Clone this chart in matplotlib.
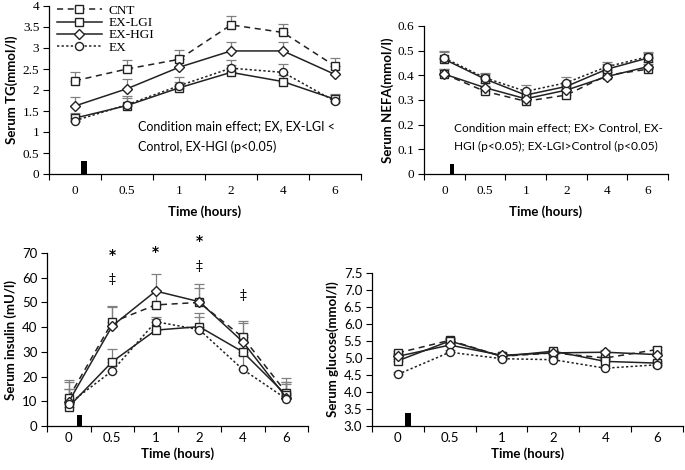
import matplotlib
matplotlib.use("Agg")
import matplotlib.pyplot as plt
import numpy as np

times = ["0", "0.5", "1", "2", "4", "6"]
series = ["CNT", "EX-LGI", "EX-HGI", "EX"]

tg = {
    "CNT":    [2.22, 2.50, 2.73, 3.55, 3.37, 2.57],
    "EX-LGI": [1.33, 1.63, 2.05, 2.42, 2.20, 1.78],
    "EX-HGI": [1.62, 2.03, 2.54, 2.93, 2.93, 2.37],
    "EX":     [1.27, 1.65, 2.10, 2.52, 2.42, 1.73],
}
tg_err = {
    "CNT":    [0.22, 0.22, 0.22, 0.20, 0.21, 0.20],
    "EX-LGI": [0.12, 0.17, 0.15, 0.18, 0.15, 0.12],
    "EX-HGI": [0.21, 0.22, 0.20, 0.22, 0.22, 0.20],
    "EX":     [0.13, 0.20, 0.20, 0.20, 0.20, 0.15],
}

nefa = {
    "CNT":    [0.405, 0.335, 0.295, 0.320, 0.400, 0.425],
    "EX-LGI": [0.465, 0.385, 0.320, 0.355, 0.425, 0.470],
    "EX-HGI": [0.405, 0.350, 0.305, 0.340, 0.395, 0.435],
    "EX":     [0.470, 0.390, 0.335, 0.370, 0.435, 0.475],
}
nefa_err = {
    "CNT":    [0.02, 0.02, 0.02, 0.02, 0.02, 0.02],
    "EX-LGI": [0.03, 0.02, 0.02, 0.02, 0.02, 0.02],
    "EX-HGI": [0.02, 0.02, 0.02, 0.02, 0.02, 0.02],
    "EX":     [0.03, 0.02, 0.025, 0.025, 0.02, 0.02],
}

insulin = {
    "CNT":    [11.5, 42.0, 49.0, 50.0, 35.9, 13.5],
    "EX-LGI": [7.8, 26.0, 38.8, 40.2, 30.0, 12.5],
    "EX-HGI": [9.8, 40.5, 54.6, 50.3, 34.1, 11.5],
    "EX":     [9.0, 22.3, 42.2, 39.0, 22.9, 11.0],
}
insulin_err = {
    "CNT":    [7.0, 6.5, 6.0, 6.0, 6.5, 6.0],
    "EX-LGI": [7.0, 5.0, 4.5, 5.5, 7.0, 5.5],
    "EX-HGI": [8.0, 7.5, 7.0, 7.0, 7.5, 6.5],
    "EX":     [6.0, 5.0, 2.0, 5.0, 6.0, 6.0],
}

glucose = {
    "CNT":    [5.15, 5.52, 5.05, 5.15, 5.00, 5.25],
    "EX-LGI": [4.92, 5.50, 5.05, 5.20, 4.90, 4.85],
    "EX-HGI": [5.05, 5.38, 5.08, 5.15, 5.17, 5.10],
    "EX":     [4.52, 5.17, 4.98, 4.95, 4.70, 4.80],
}
glucose_err = {
    "CNT":    [0.06, 0.06, 0.05, 0.05, 0.06, 0.06],
    "EX-LGI": [0.06, 0.06, 0.05, 0.05, 0.06, 0.06],
    "EX-HGI": [0.06, 0.06, 0.05, 0.05, 0.06, 0.06],
    "EX":     [0.06, 0.06, 0.05, 0.05, 0.06, 0.06],
}

styles = {
    "CNT":    dict(ls=(0, (4, 3)), marker="s", ms=5.5),
    "EX-LGI": dict(ls="-", marker="s", ms=5.5),
    "EX-HGI": dict(ls="-", marker="D", ms=4.8),
    "EX":     dict(ls=(0, (1.5, 1.5)), marker="o", ms=5.8),
}

SERIF = "Liberation Serif"
SANS = "Lato"

fig = plt.figure(figsize=(6.85, 4.70), dpi=100)

def fx(px):
    return px / 685.0

def fy(px):
    return 1 - px / 470.0

def make_ax(l, r, top, bottom):
    return fig.add_axes([fx(l), fy(bottom), fx(r - l), (bottom - top) / 470.0])

def style_ax(ax, ylim, yticks, yticklabels, ylabel, bar, ylabel_x, tickfont, xpad, labelpad):
    x = np.arange(len(times))
    ax.set_xlim(-0.5, len(times) - 0.5)
    ax.set_ylim(*ylim)
    ax.set_yticks(yticks)
    ax.set_yticklabels(yticklabels, fontfamily=tickfont, fontsize=9.5)
    ax.set_xticks(np.arange(-0.5, len(times), 1.0))
    ax.set_xticklabels([])
    ax.set_xticks(x, minor=True)
    ax.set_xticklabels(times, minor=True, fontfamily=tickfont, fontsize=9.5)
    ax.tick_params(axis="x", which="major", direction="out", length=4, width=0.8)
    ax.tick_params(axis="x", which="minor", length=0, pad=xpad)
    ax.tick_params(axis="y", direction="out", length=4, width=0.8, pad=3)
    for s in ["top", "right"]:
        ax.spines[s].set_visible(False)
    for s in ["left", "bottom"]:
        ax.spines[s].set_linewidth(0.9)
    ax.set_xlabel("Time (hours)", fontfamily=SANS, fontweight="bold", fontsize=9.5, labelpad=labelpad)
    ax.set_ylabel(ylabel, fontfamily=SANS, fontweight="bold", fontsize=9.5)
    ax.yaxis.set_label_coords(ylabel_x, 0.5)
    ax.bar([bar[0]], [bar[1] - ylim[0]], bottom=ylim[0], width=0.11, color="black", zorder=3)

def draw_series(ax, data, err):
    x = np.arange(len(times))
    handles = []
    for name in series:
        st = styles[name]
        e = np.array(err[name])
        ax.errorbar(x, data[name], yerr=[np.zeros_like(e), e], fmt="none",
                    ecolor="#808080", elinewidth=0.9, capsize=3.5, capthick=0.9, zorder=2)
        h, = ax.plot(x, data[name], color="#222222", lw=1.1, ls=st["ls"], marker=st["marker"],
                     ms=st["ms"], mfc="white", mec="#222222", mew=1.0, zorder=4, label=name)
        handles.append(h)
    return handles

# Top-left: TG
ax1 = make_ax(49, 361, 6, 174)
handles = draw_series(ax1, tg, tg_err)
style_ax(ax1, (0, 4), np.arange(0, 4.01, 0.5), ["0", "0.5", "1", "1.5", "2", "2.5", "3", "3.5", "4"],
         "Serum TG(mmol/l)", (0.17, 0.3), -0.1, SERIF, 8, 6)
leg = ax1.legend(handles=handles, loc="upper left", bbox_to_anchor=(0.0, 1.055), frameon=False,
                 prop={"family": SERIF, "size": 9.5}, handlelength=3.4, labelspacing=0.0,
                 borderpad=0.1, handletextpad=0.5)
ax1.text(0.285, 0.223, "Condition main effect; EX, EX-LGI <\nControl, EX-HGI (p<0.05)",
         transform=ax1.transAxes, ha="left", va="center", fontfamily=SANS, fontsize=9,
         linespacing=1.7)

# Top-right: NEFA
ax2 = make_ax(424, 668, 26, 174)
draw_series(ax2, nefa, nefa_err)
style_ax(ax2, (0, 0.6), np.arange(0, 0.61, 0.1), ["0", "0.1", "0.2", "0.3", "0.4", "0.5", "0.6"],
         "Serum NEFA(mmol/l)", (0.19, 0.04), -0.125, SERIF, 8, 6)
ax2.text(0.125, 0.25, "Condition main effect; EX> Control, EX-\nHGI (p<0.05); EX-LGI>Control (p<0.05)",
         transform=ax2.transAxes, ha="left", va="center", fontfamily=SANS, fontsize=8.6,
         linespacing=1.8)

# Bottom-left: insulin
ax3 = make_ax(47, 308, 253, 426)
draw_series(ax3, insulin, insulin_err)
style_ax(ax3, (0, 70), np.arange(0, 71, 10), [str(v) for v in range(0, 71, 10)],
         "Serum insulin (mU/l)", (0.25, 4.5), -0.115, SANS, 4, 3)
stars = [(1, 69.0), (2, 70.5), (3, 75.0)]
daggers = [(1, 59.0), (3, 64.5), (4, 52.5)]
for xx, yy in stars:
    ax3.text(xx, yy, "*", ha="center", va="center", fontsize=10, fontweight="bold",
             fontfamily="DejaVu Sans", clip_on=False)
for xx, yy in daggers:
    ax3.text(xx, yy, "‡", ha="center", va="center", fontsize=10,
             fontfamily="DejaVu Serif", clip_on=False)

# Bottom-right: glucose
ax4 = make_ax(372, 683, 273, 426)
draw_series(ax4, glucose, glucose_err)
gt = np.arange(3.0, 7.51, 0.5)
style_ax(ax4, (3.0, 7.5), gt, ["%.1f" % v for v in gt],
         "Serum glucose(mmol/l)", (0.2, 3.37), -0.105, SANS, 4, 3)

fig.savefig("out.png", dpi=100)
